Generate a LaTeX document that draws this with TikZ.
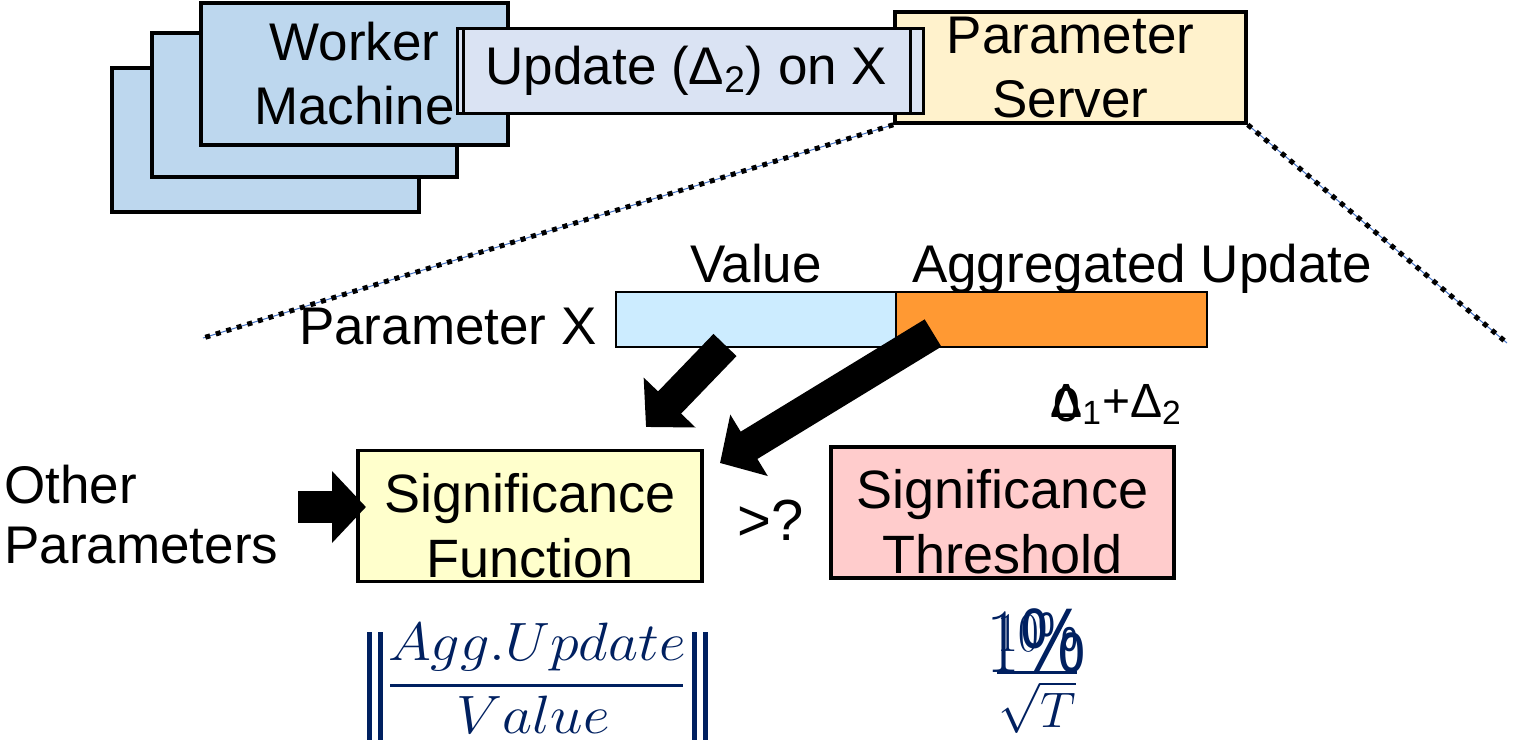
\RequirePackage{fix-cm}
\documentclass[tikz,border=0pt]{standalone}
\usepackage{fontspec}
\setmainfont{Liberation Sans}
\usetikzlibrary{arrows.meta}
\definecolor{workerblue}{HTML}{BDD7EE}
\definecolor{updfill}{HTML}{DAE3F3}
\definecolor{psfill}{HTML}{FFF2CC}
\definecolor{valfill}{HTML}{CCECFF}
\definecolor{aggfill}{HTML}{FF9933}
\definecolor{sigfill}{HTML}{FFFFCC}
\definecolor{thrfill}{HTML}{FFCCCC}
\definecolor{navy}{HTML}{002060}
\definecolor{guide}{HTML}{4472C4}
\begin{document}
\begin{tikzpicture}[x=0.5pt,y=-0.5pt,
  bigtxt/.style={font=\fontsize{26.5}{32}\selectfont},
  box/.style={draw=black, line width=1.75pt, inner sep=0pt, align=center, bigtxt},
  bar/.style={draw=black, line width=1pt, inner sep=0pt, minimum height=27.5pt},
  lbl/.style={inner sep=0pt, bigtxt},
  zoomline/.style={line width=2.5pt, dash pattern=on 2.5pt off 3pt},
  guideline/.style={guide, line width=0.5pt},
  blockarrow/.style={line width=16pt, -{Triangle[length=17pt,width=35pt]}},
  formula/.style={inner sep=0pt, text=navy},
  normbar/.style={navy, line width=2.5pt},
]
\path[use as bounding box] (0,0) rectangle (1513,739);
\clip (0,0) rectangle (1513,739);

% stack of worker machines
\node[box, fill=workerblue, minimum width=153.5pt, minimum height=72pt] (w3) at (265.5,140) {};
\node[box, fill=workerblue, minimum width=152.5pt, minimum height=72pt] (w2) at (304.5,105) {};
\node[box, fill=workerblue, minimum width=153.5pt, minimum height=71pt] (w1) at (354.5,74) {Worker\\Machine};

% parameter server
\node[box, fill=psfill, minimum width=175.5pt, minimum height=55.5pt] (ps) at (1070.5,67.5) {Parameter\\Server};

% update message, two stacked sheets
\node[box, line width=1.5pt, fill=updfill, minimum width=233pt, minimum height=42.5pt] (upd2) at (690,70.5) {};
\node[box, line width=1.5pt, fill=updfill, minimum width=223.5pt, minimum height=42.5pt] (upd) at (686.5,70.5) {Update (Δ\textsubscript{2}) on X};

% zoom-in lines from the server
\coordinate (zl) at (203,338);
\coordinate (zr) at (1507,343);
\draw[guideline] (ps.south west) -- (zl);
\draw[guideline] (ps.south east) -- (zr);
\draw[zoomline] (ps.south west) -- (zl);
\draw[zoomline] (ps.south east) -- (zr);

% parameter record
\node[bar, fill=valfill, minimum width=140pt] (val) at (756,319.5) {};
\node[bar, fill=aggfill, minimum width=155.5pt] (agg) at (1051.5,319.5) {};
\node[lbl, anchor=base] (valt) at (756,282) {Value};
\node[lbl, anchor=base] (aggt) at (1142,282) {Aggregated Update};
\node[lbl, anchor=base east] (px) at (597,344) {Parameter X};

% significance test
\node[box, fill=sigfill, minimum width=172pt, minimum height=65.5pt] (sf) at (530,516) {};
\node[lbl, align=center, anchor=base, font=\fontsize{27}{32.5}\selectfont] (sft) at (sf.center |- 0,577) {Significance\\Function};
\node[box, fill=thrfill, minimum width=171.5pt, minimum height=65.5pt] (st) at (1002.5,512.5) {};
\node[lbl, align=center, anchor=base, font=\fontsize{27}{32.5}\selectfont] (stt) at (st.center |- 0,573) {Significance\\Threshold};
\node[lbl, anchor=base, font=\fontsize{29}{32}\selectfont] (cmp) at (771,540) {>?};
\node[lbl, anchor=base west, align=left, font=\fontsize{26.5}{30}\selectfont] (other) at (4,563) {Other\\Parameters};

% accumulated delta label
\node[inner sep=0pt, anchor=base, font=\fontsize{24}{28}\selectfont] (delta) at (1116,417) {Δ\textsubscript{1}+Δ\textsubscript{2}};
\node[inner sep=0pt, anchor=base, font=\fontsize{24}{28}\selectfont] (zero) at (1067,421) {0};

% block arrows
\coordinate (a1s) at (725,345);
\coordinate (a1e) at (646,427);
\coordinate (a2s) at (933,333);
\coordinate (a2e) at (720,463);
\coordinate (a3s) at (298,507);
\coordinate (a3e) at (366,507);
\draw[blockarrow] (a1s) -- (a1e);
\draw[blockarrow] (a2s) -- (a2e);
\draw[blockarrow] (a3s) -- (a3e);

% significance function: norm of the relative update
\node[formula, anchor=base, font=\fontsize{27}{32}\selectfont] (num) at (537,660)
  {\scalebox{1.08}[1]{$Agg.Update$}};
\node[formula, anchor=base, font=\fontsize{27}{32}\selectfont] (den) at (533,733)
  {\scalebox{1.08}[1]{$Value$}};
\coordinate (fl) at (390,685);
\coordinate (fr) at (683,685);
\draw[navy, line width=1.5pt] (fl) -- (fr);
\foreach \x/\n in {369.5/a,380.5/b,694.5/c,705.5/d}{
  \coordinate (n\n t) at (\x,632);
  \coordinate (n\n b) at (\x,750);
  \draw[normbar] (n\n t) -- (n\n b);
}

% threshold formula
\node[formula, anchor=base, font=\fontsize{28}{32}\selectfont] (ten) at (1038,651) {\scalebox{0.8}[1]{$10\%$}};
\node[formula, anchor=base, font=\fontsize{46}{50}\selectfont] (one) at (1036,672) {\scalebox{0.8}[1]{$1\%$}};
\coordinate (fbl) at (997,672);
\coordinate (fbr) at (1077,672);
\draw[navy, line width=1.5pt] (fbl) -- (fbr);
\node[formula, anchor=base, font=\fontsize{25}{30}\selectfont] (sq) at (1037,727) {$\sqrt{T}$};
\end{tikzpicture}
\end{document}
